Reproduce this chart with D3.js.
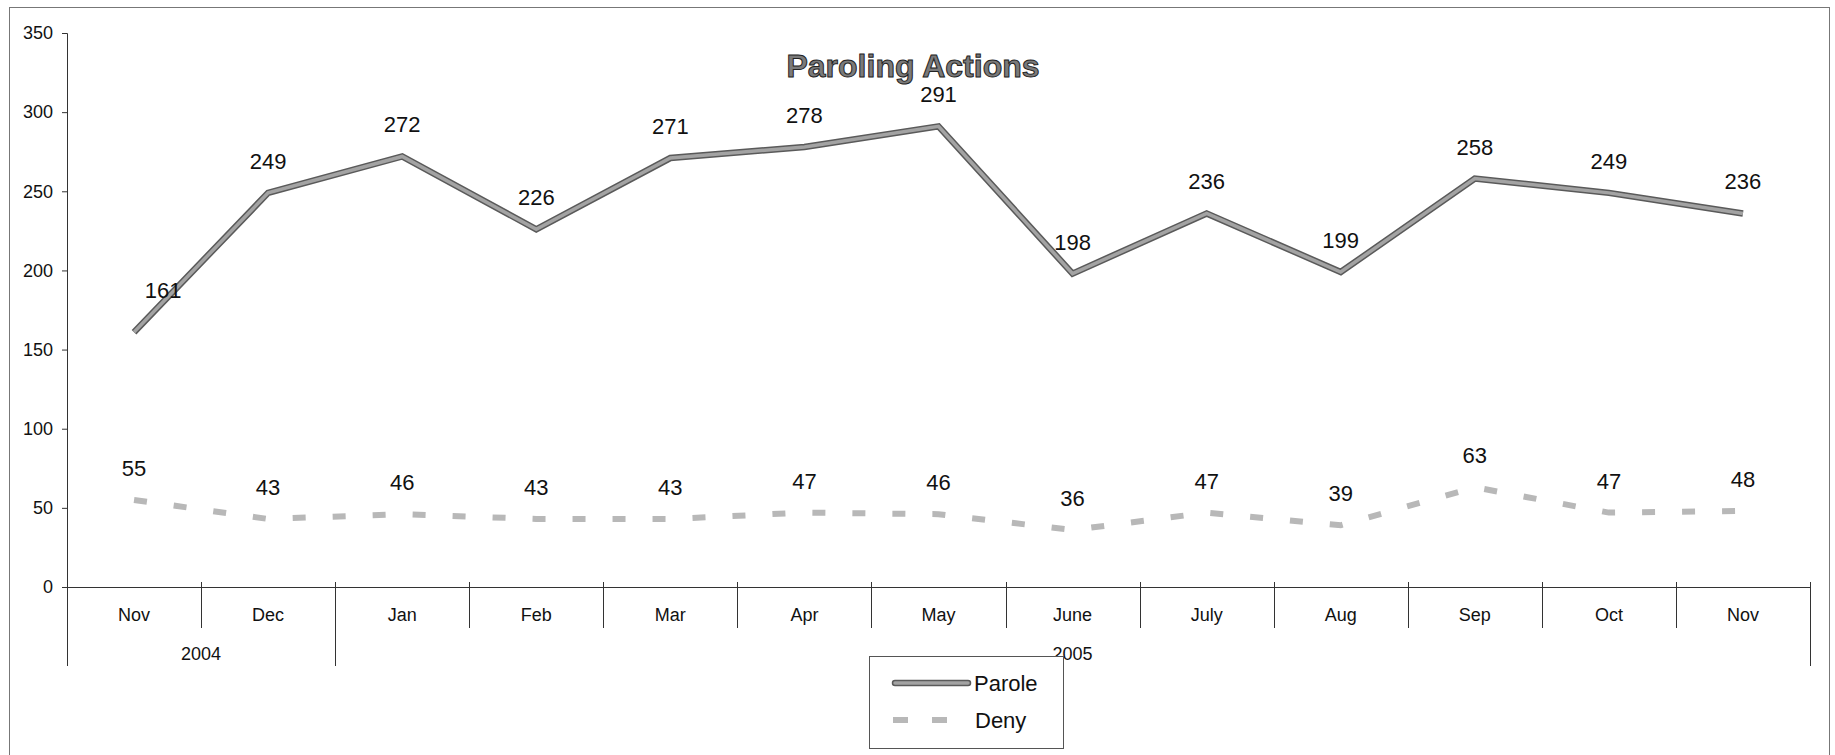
<!DOCTYPE html>
<html lang="en">
<head>
<meta charset="UTF-8">
<title>Paroling Actions</title>
<script src="https://cdn.jsdelivr.net/npm/d3@7"></script>
<style>
  body { margin: 0; background: #fff; }
  svg { display: block; font-family: "Liberation Sans", Arial, sans-serif; }
</style>
</head>
<body>
<svg id="chart" width="1835" height="755"></svg>
<script>
// chart data
var months = ["Nov", "Dec", "Jan", "Feb", "Mar", "Apr", "May", "June", "July", "Aug", "Sep", "Oct", "Nov"];
var years = [{label: "2004", from: 0, to: 2}, {label: "2005", from: 2, to: 13}];
var parole = [161, 249, 272, 226, 271, 278, 291, 198, 236, 199, 258, 249, 236];
var deny = [55, 43, 46, 43, 43, 47, 46, 36, 47, 39, 63, 47, 48];
var yTicks = [0, 50, 100, 150, 200, 250, 300, 350];

var svg = d3.select("#chart");

// outer frame
svg.append("rect")
  .attr("x", 9.5).attr("y", 7.5)
  .attr("width", 1820).attr("height", 760)
  .attr("fill", "none").attr("stroke", "#777").attr("stroke-width", 1);

var plotLeft = 67, plotRight = 1810, plotTop = 33, plotBottom = 587;

var x = d3.scaleBand()
  .domain(d3.range(months.length))
  .range([plotLeft, plotRight])
  .padding(0);

var y = d3.scaleLinear()
  .domain([0, 350])
  .range([plotBottom, plotTop]);

// y axis
var yAxis = svg.append("g")
  .attr("transform", "translate(" + plotLeft + ",0)")
  .call(d3.axisLeft(y).tickValues(yTicks).tickSize(5).tickPadding(9));
yAxis.select(".domain").attr("stroke", "#333");
yAxis.selectAll(".tick line").attr("stroke", "#333");
yAxis.selectAll("text")
  .attr("font-size", 18).attr("fill", "#111")
  .attr("font-family", "Liberation Sans, Arial, sans-serif");

// x axis line
svg.append("line")
  .attr("x1", plotLeft).attr("x2", plotRight)
  .attr("y1", y(0) + 0.5).attr("y2", y(0) + 0.5)
  .attr("stroke", "#333");

function edgeX(i) { return Math.round(plotLeft + i * x.bandwidth()) + 0.5; }

// month separators
svg.append("g").selectAll("line")
  .data(d3.range(months.length + 1))
  .enter().append("line")
  .attr("x1", edgeX).attr("x2", edgeX)
  .attr("y1", y(0) - 5)
  .attr("y2", y(0) + 41)
  .attr("stroke", "#333");

// year separators
var yearEdges = [0, 2, 13];
svg.append("g").selectAll("line")
  .data(yearEdges)
  .enter().append("line")
  .attr("x1", edgeX).attr("x2", edgeX)
  .attr("y1", y(0))
  .attr("y2", y(0) + 79)
  .attr("stroke", "#333");

// month labels
svg.append("g").selectAll("text")
  .data(months)
  .enter().append("text")
  .attr("x", function(d, i) { return x(i) + x.bandwidth() / 2; })
  .attr("y", y(0) + 34)
  .attr("text-anchor", "middle")
  .attr("font-size", 18)
  .attr("fill", "#111")
  .text(function(d) { return d; });

// year labels
svg.append("g").selectAll("text")
  .data(years)
  .enter().append("text")
  .attr("x", function(d) { return plotLeft + (d.from + d.to) / 2 * x.bandwidth(); })
  .attr("y", y(0) + 73)
  .attr("text-anchor", "middle")
  .attr("font-size", 18)
  .attr("fill", "#111")
  .text(function(d) { return d.label; });

var line = d3.line()
  .x(function(d, i) { return x(i) + x.bandwidth() / 2; })
  .y(function(d) { return y(d); });

// deny series (dashed)
svg.append("path")
  .datum(deny)
  .attr("d", line)
  .attr("fill", "none")
  .attr("stroke", "#b8b8b8")
  .attr("stroke-width", 6)
  .attr("stroke-dasharray", "13,27");

// parole series (outlined thick line)
svg.append("path")
  .datum(parole)
  .attr("d", line)
  .attr("fill", "none")
  .attr("stroke", "#5a5a5a")
  .attr("stroke-width", 6.5)
  .attr("stroke-linejoin", "miter");
svg.append("path")
  .datum(parole)
  .attr("d", line)
  .attr("fill", "none")
  .attr("stroke", "#a3a3a3")
  .attr("stroke-width", 3.5)
  .attr("stroke-linejoin", "miter");

// data labels
function addLabels(values, cls) {
  return svg.append("g").attr("class", cls).selectAll("text")
    .data(values)
    .enter().append("text")
    .attr("x", function(d, i) { return x(i) + x.bandwidth() / 2; })
    .attr("y", function(d) { return y(d) - 24; })
    .attr("text-anchor", "middle")
    .attr("font-size", 22)
    .attr("fill", "#111")
    .text(function(d) { return d; });
}
var paroleLabels = addLabels(parole, "parole-labels");
addLabels(deny, "deny-labels");
// first parole label was nudged right in the original
paroleLabels.filter(function(d, i) { return i === 0; })
  .attr("dx", 29).attr("dy", -10);

// title
svg.append("text")
  .attr("x", 913)
  .attr("y", 77)
  .attr("text-anchor", "middle")
  .attr("font-size", 32)
  .attr("font-weight", "bold")
  .attr("fill", "#7a7a7a")
  .attr("stroke", "#222")
  .attr("stroke-width", 1)
  .text("Paroling Actions");

// legend
var lg = svg.append("g").attr("transform", "translate(869,656)");
lg.append("rect")
  .attr("x", 0.5).attr("y", 0.5)
  .attr("width", 194).attr("height", 92)
  .attr("fill", "#fff").attr("stroke", "#555");
lg.append("line")
  .attr("x1", 26).attr("x2", 99).attr("y1", 27).attr("y2", 27)
  .attr("stroke", "#5a5a5a").attr("stroke-width", 6.5).attr("stroke-linecap", "round");
lg.append("line")
  .attr("x1", 26).attr("x2", 99).attr("y1", 27).attr("y2", 27)
  .attr("stroke", "#a3a3a3").attr("stroke-width", 3.5).attr("stroke-linecap", "round");
lg.append("text")
  .attr("x", 105).attr("y", 35)
  .attr("font-size", 22).attr("fill", "#111")
  .text("Parole");
lg.append("line")
  .attr("x1", 24).attr("x2", 80).attr("y1", 64).attr("y2", 64)
  .attr("stroke", "#b8b8b8").attr("stroke-width", 6)
  .attr("stroke-dasharray", "15,24");
lg.append("text")
  .attr("x", 106).attr("y", 72)
  .attr("font-size", 22).attr("fill", "#111")
  .text("Deny");
</script>
</body>
</html>
